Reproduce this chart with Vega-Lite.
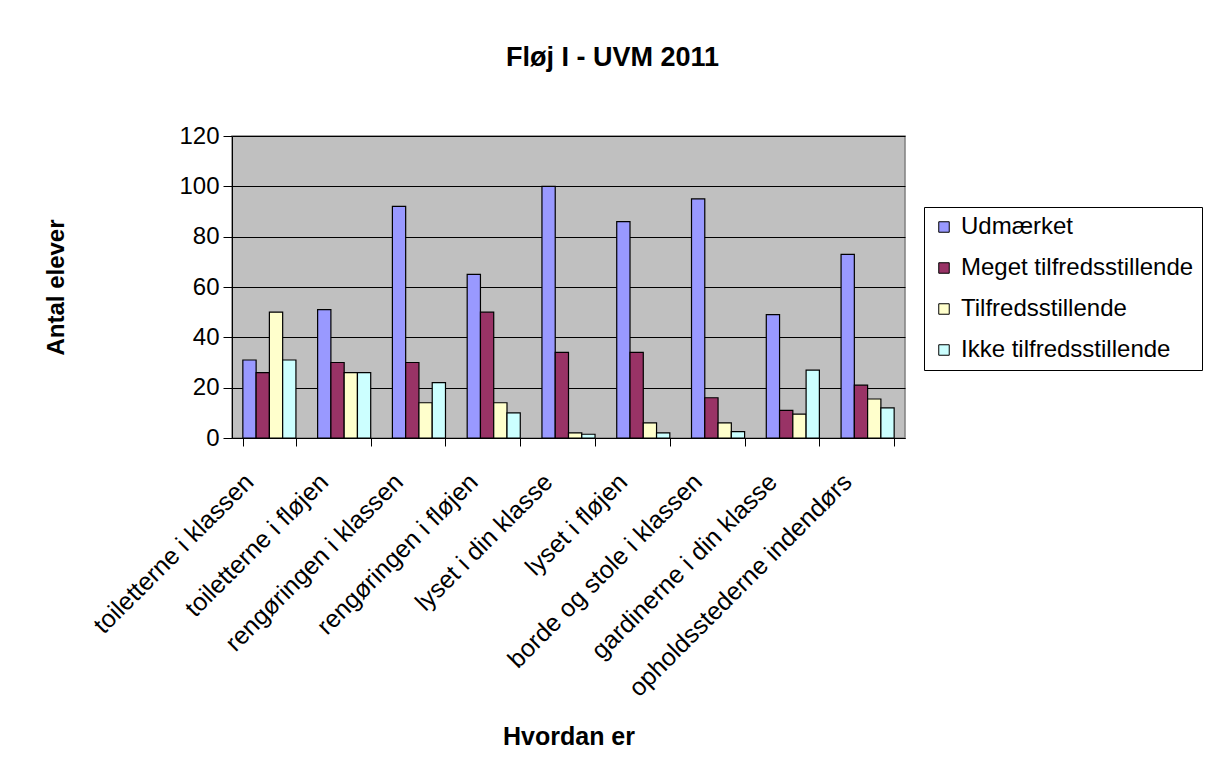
{
  "$schema": "https://vega.github.io/schema/vega-lite/v6.json",
  "width": 673,
  "height": 302,
  "autosize": {"type": "none"},
  "padding": {"left": 232, "top": 136, "right": 315, "bottom": 336},
  "background": "white",
  "title": {
    "text": "Fløj I - UVM 2011",
    "font": "Liberation Sans",
    "fontSize": 27,
    "fontWeight": "bold",
    "color": "black",
    "anchor": "middle",
    "dx": 44,
    "offset": 52
  },
  "data": {
    "values": [
      {"kategori": "toiletterne i klassen", "svar": "Udmærket", "antal": 31},
      {"kategori": "toiletterne i klassen", "svar": "Meget tilfredsstillende", "antal": 26},
      {"kategori": "toiletterne i klassen", "svar": "Tilfredsstillende", "antal": 50},
      {"kategori": "toiletterne i klassen", "svar": "Ikke tilfredsstillende", "antal": 31},
      {"kategori": "toiletterne i fløjen", "svar": "Udmærket", "antal": 51},
      {"kategori": "toiletterne i fløjen", "svar": "Meget tilfredsstillende", "antal": 30},
      {"kategori": "toiletterne i fløjen", "svar": "Tilfredsstillende", "antal": 26},
      {"kategori": "toiletterne i fløjen", "svar": "Ikke tilfredsstillende", "antal": 26},
      {"kategori": "rengøringen i klassen", "svar": "Udmærket", "antal": 92},
      {"kategori": "rengøringen i klassen", "svar": "Meget tilfredsstillende", "antal": 30},
      {"kategori": "rengøringen i klassen", "svar": "Tilfredsstillende", "antal": 14},
      {"kategori": "rengøringen i klassen", "svar": "Ikke tilfredsstillende", "antal": 22},
      {"kategori": "rengøringen i fløjen", "svar": "Udmærket", "antal": 65},
      {"kategori": "rengøringen i fløjen", "svar": "Meget tilfredsstillende", "antal": 50},
      {"kategori": "rengøringen i fløjen", "svar": "Tilfredsstillende", "antal": 14},
      {"kategori": "rengøringen i fløjen", "svar": "Ikke tilfredsstillende", "antal": 10},
      {"kategori": "lyset i din klasse", "svar": "Udmærket", "antal": 100},
      {"kategori": "lyset i din klasse", "svar": "Meget tilfredsstillende", "antal": 34},
      {"kategori": "lyset i din klasse", "svar": "Tilfredsstillende", "antal": 2},
      {"kategori": "lyset i din klasse", "svar": "Ikke tilfredsstillende", "antal": 1.5},
      {"kategori": "lyset i fløjen", "svar": "Udmærket", "antal": 86},
      {"kategori": "lyset i fløjen", "svar": "Meget tilfredsstillende", "antal": 34},
      {"kategori": "lyset i fløjen", "svar": "Tilfredsstillende", "antal": 6},
      {"kategori": "lyset i fløjen", "svar": "Ikke tilfredsstillende", "antal": 2},
      {"kategori": "borde og stole i klassen", "svar": "Udmærket", "antal": 95},
      {"kategori": "borde og stole i klassen", "svar": "Meget tilfredsstillende", "antal": 16},
      {"kategori": "borde og stole i klassen", "svar": "Tilfredsstillende", "antal": 6},
      {"kategori": "borde og stole i klassen", "svar": "Ikke tilfredsstillende", "antal": 2.5},
      {"kategori": "gardinerne i din klasse", "svar": "Udmærket", "antal": 49},
      {"kategori": "gardinerne i din klasse", "svar": "Meget tilfredsstillende", "antal": 11},
      {"kategori": "gardinerne i din klasse", "svar": "Tilfredsstillende", "antal": 9.5},
      {"kategori": "gardinerne i din klasse", "svar": "Ikke tilfredsstillende", "antal": 27},
      {"kategori": "opholdsstederne indendørs", "svar": "Udmærket", "antal": 73},
      {"kategori": "opholdsstederne indendørs", "svar": "Meget tilfredsstillende", "antal": 21},
      {"kategori": "opholdsstederne indendørs", "svar": "Tilfredsstillende", "antal": 15.5},
      {"kategori": "opholdsstederne indendørs", "svar": "Ikke tilfredsstillende", "antal": 12}
    ]
  },
  "mark": {"type": "bar", "stroke": "black", "strokeWidth": 1.2},
  "encoding": {
    "x": {
      "field": "kategori",
      "type": "nominal",
      "sort": null,
      "scale": {"paddingInner": 0.29, "paddingOuter": 0.145},
      "axis": {
        "title": "Hvordan er",
        "titleFontSize": 25,
        "titleFontWeight": "bold",
        "titleColor": "black",
        "titleY": 306,
        "titleBaseline": "alphabetic",
        "labelAngle": -45,
        "labelFontSize": 25,
        "labelColor": "black",
        "labelPadding": 23,
        "labelOffset": -29,
        "labelLimit": 400,
        "tickBand": "extent",
        "tickSize": 8,
        "tickColor": "black",
        "domainColor": "black",
        "grid": false
      }
    },
    "xOffset": {
      "field": "svar",
      "type": "nominal",
      "scale": {"domain": ["Udmærket", "Meget tilfredsstillende", "Tilfredsstillende", "Ikke tilfredsstillende"]}
    },
    "y": {
      "field": "antal",
      "type": "quantitative",
      "scale": {"domain": [0, 120], "nice": false},
      "axis": {
        "title": "Antal elever",
        "titleFontSize": 24,
        "titleFontWeight": "bold",
        "titleColor": "black",
        "titlePadding": 110,
        "values": [0, 20, 40, 60, 80, 100, 120],
        "labelFontSize": 24,
        "labelColor": "black",
        "labelPadding": 4,
        "tickSize": 9,
        "tickColor": "black",
        "domainColor": "black",
        "gridColor": "black",
        "gridOpacity": 1,
        "gridWidth": 1.2
      }
    },
    "color": {
      "field": "svar",
      "type": "nominal",
      "scale": {
        "domain": ["Udmærket", "Meget tilfredsstillende", "Tilfredsstillende", "Ikke tilfredsstillende"],
        "range": ["#9999FF", "#993366", "#FFFFCC", "#CCFFFF"]
      },
      "legend": {
        "title": null,
        "orient": "none",
        "legendX": 692,
        "legendY": 71,
        "strokeColor": "black",
        "fillColor": "white",
        "padding": 8,
        "symbolType": "square",
        "symbolSize": 110,
        "symbolStrokeColor": "black",
        "symbolStrokeWidth": 1,
        "symbolOpacity": 1,
        "labelFontSize": 24,
        "labelColor": "black",
        "labelLimit": 400,
        "labelOffset": 5,
        "rowPadding": 17
      }
    }
  },
  "config": {
    "font": "Liberation Sans",
    "view": {"fill": "#C0C0C0", "stroke": "#808080", "strokeWidth": 1.5}
  }
}
